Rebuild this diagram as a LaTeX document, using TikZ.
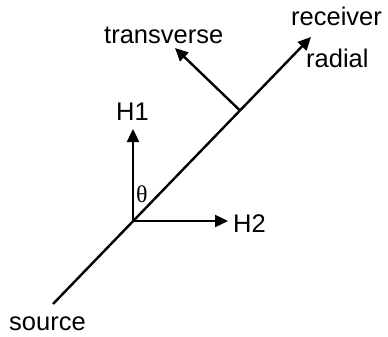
\documentclass[tikz,border=0pt]{standalone}
\usepackage{fontspec}
\setmainfont{Liberation Sans}
\newfontfamily\thetafont{Liberation Serif}
\usetikzlibrary{arrows.meta}
\begin{document}
\begin{tikzpicture}[x=1pt,y=1pt,
  ln/.style={line width=2.4pt,line cap=butt},
  arr/.style={ln,-{Triangle[length=13pt,width=12pt]}},
  lbl/.style={inner sep=0pt,anchor=base west,font=\fontsize{25.5}{30}\selectfont}]
\useasboundingbox (0,0) rectangle (388,-337);
\coordinate (src) at (53,-304);
\coordinate (org) at (133,-221);
\coordinate (rcv) at (311,-37);
\coordinate (foot) at (240,-110.5);
\coordinate (trtip) at (175,-48);
\coordinate (hone) at (133,-129);
\coordinate (htwo) at (228,-221);
\draw[arr] (src) -- (rcv);
\draw[arr] (foot) -- (trtip);
\draw[arr] (org) -- (hone);
\draw[arr] (org) -- (htwo);
\node[lbl] (lrcv) at (291,-26) {receiver};
\node[lbl] (ltr) at (104,-44) {transverse};
\node[lbl] (lrad) at (306,-67) {radial};
\node[lbl] (lh1) at (116,-120) {H1};
\node[lbl] (lh2) at (233,-232) {H2};
\node[lbl] (lsrc) at (9,-330) {source};
\node[inner sep=0pt,anchor=base west,font=\thetafont\fontsize{24}{28}\selectfont] (lth) at (136,-202) {θ};
\end{tikzpicture}
\end{document}
